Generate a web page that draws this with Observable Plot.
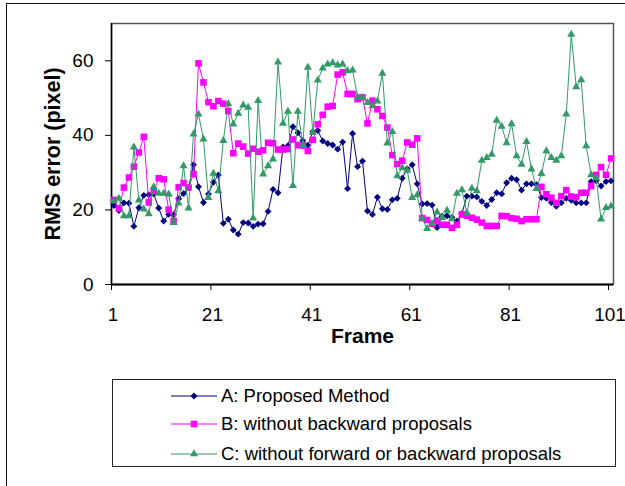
<!DOCTYPE html>
<html>
<head>
<meta charset="utf-8">
<script src="https://cdn.jsdelivr.net/npm/d3@7"></script>
<script src="https://cdn.jsdelivr.net/npm/@observablehq/plot@0.6"></script>
<style>
  html, body { margin: 0; padding: 0; background: #fff; overflow: hidden; }
  #wrap { position: relative; width: 625px; height: 486px; overflow: hidden; font-family: "Liberation Sans", Arial, sans-serif; }
  #outer { position: absolute; left: 6px; top: 3px; width: 700px; height: 600px; border-left: 1.5px solid #111; border-top: 1.5px solid #111; }
  #chart { position: absolute; left: 0; top: 0; }
  #legend { position: absolute; left: 112px; top: 379px; width: 502px; height: 86px; border: 1.5px solid #222; background: #fff; }
  .row { position: absolute; left: 0; height: 24px; display: flex; align-items: center; }
  .row svg { position: absolute; left: 57px; top: 0; }
  .row span { position: absolute; left: 108px; font-size: 18.5px; white-space: nowrap; color: #000; line-height: 24px; top: 0; }
</style>
</head>
<body>
<div id="wrap">
  <div id="outer"></div>
  <div id="chart"></div>
  <div id="legend"></div>
</div>
<script>
const frames = d3.range(1, 102);
const xTicks = [1, 21, 41, 61, 81, 101];
const yTicks = [0, 20, 40, 60];
const seriesNames = ["A: Proposed Method", "B: without backward proposals", "C: without forward or backward proposals"];
const seriesColors = ["#000080", "#FF00FF", "#339966"];
const seriesSymbols = ["diamond2", "square", "triangle"];

const seriesA = [
  21.2, 19.8, 21.9, 21.8, 15.6, 20.6, 23.9, 24.1, 24.3, 20.5,
  17.0, 18.8, 18.7, 23.0, 24.4, 26.0, 32.1, 26.2, 22.0, 24.3,
  27.4, 29.4, 16.4, 17.5, 14.6, 13.5, 16.6, 16.5, 15.6, 16.2,
  16.3, 19.6, 25.5, 24.6, 36.9, 37.2, 42.3, 40.7, 38.6, 37.3,
  41.0, 41.3, 38.5, 37.8, 37.4, 36.3, 38.2, 25.7, 40.5, 31.6,
  33.1, 19.7, 18.8, 23.4, 20.3, 20.1, 22.7, 23.1, 28.5, 31.0,
  32.1, 27.0, 21.6, 21.7, 21.3, 15.3, 18.3, 18.4, 18.0, 17.0,
  19.0, 23.7, 23.7, 23.5, 22.3, 21.2, 22.8, 24.6, 24.3, 27.3,
  28.5, 28.1, 25.3, 27.0, 27.0, 26.8, 23.3, 23.1, 22.0, 21.0,
  21.9, 23.1, 22.6, 21.9, 21.9, 21.9, 27.6, 27.8, 26.4, 27.6,
  27.8
];
const seriesB = [
  22.7, 20.4, 26.0, 28.7, 31.6, 35.4, 39.6, 22.0, 25.0, 28.5,
  28.2, 20.1, 17.0, 26.1, 27.2, 26.0, 29.6, 59.3, 54.2, 48.9,
  47.8, 49.2, 48.5, 46.5, 35.2, 37.8, 37.0, 35.1, 36.4, 35.6,
  36.0, 38.0, 37.9, 36.2, 36.2, 36.3, 38.9, 37.4, 37.3, 35.8,
  38.8, 43.0, 45.5, 47.7, 47.9, 56.3, 56.9, 51.1, 51.1, 49.7,
  50.2, 43.2, 49.3, 47.0, 45.2, 42.1, 34.7, 32.3, 33.2, 38.1,
  37.5, 39.2, 17.8, 17.3, 16.3, 17.2, 16.0, 16.0, 15.2, 16.0,
  18.8, 18.4, 17.9, 17.4, 16.6, 15.7, 15.7, 15.7, 18.4, 18.3,
  17.8, 17.6, 17.0, 17.5, 17.5, 17.5, 26.2, 24.2, 23.3, 21.9,
  23.7, 25.3, 23.6, 23.4, 24.6, 24.6, 26.4, 29.4, 31.5, 29.4,
  33.8
];
const seriesC = [
  22.4, 23.1, 18.4, 18.4, 36.8, 22.6, 20.2, 18.9, 26.2, 24.4,
  24.4, 24.2, 16.6, 21.8, 31.8, 20.5, 40.3, 45.7, 39.0, 23.3,
  29.8, 25.1, 38.6, 48.4, 43.0, 45.9, 48.1, 47.5, 17.8, 49.3,
  29.6, 31.8, 33.6, 59.6, 43.2, 46.4, 26.5, 46.4, 37.5, 58.2,
  40.8, 54.8, 58.0, 59.1, 59.4, 58.8, 59.1, 57.3, 57.5, 50.3,
  50.1, 48.8, 47.9, 49.2, 56.6, 37.9, 41.0, 29.1, 31.3, 30.6,
  23.3, 24.0, 17.7, 15.0, 16.3, 19.4, 17.9, 19.9, 17.6, 24.4,
  25.4, 19.1, 25.8, 25.1, 33.3, 34.0, 34.9, 44.0, 42.4, 38.0,
  43.1, 34.5, 32.2, 38.3, 30.9, 25.7, 29.7, 35.8, 34.0, 33.3,
  34.5, 45.7, 67.1, 53.0, 54.9, 37.2, 29.4, 28.6, 17.5, 20.6,
  21.0
];

const allSeries = [seriesA, seriesB, seriesC];
const rows = allSeries.map(vals => frames.map((f, i) => ({frame: f, value: vals[i]})));
const symbolR = [3.1, 3.7, 3.0];

const seriesMarks = rows.flatMap((data, k) => [
  Plot.line(data, {x: "frame", y: "value", stroke: seriesColors[k], strokeWidth: 1}),
  Plot.dot(data, {x: "frame", y: "value", symbol: () => seriesSymbols[k], r: symbolR[k], fill: seriesColors[k], stroke: "none"})
]);

const chart = Plot.plot({
  width: 625,
  height: 486,
  marginLeft: 111,
  marginRight: 12,
  marginTop: 23,
  marginBottom: 202,
  x: {domain: [0.5, 101.5]},
  y: {domain: [0, 70]},
  symbol: {type: "identity"},
  style: {fontFamily: "'Liberation Sans', Arial, sans-serif", fontSize: "19px", color: "#000", background: "transparent"},
  marks: [
    Plot.frame({stroke: "#555", strokeWidth: 1.5}),
    Plot.axisY({ticks: yTicks, tickSize: 6, tickPadding: 12, label: null, fontSize: 19}),
    Plot.axisX({ticks: xTicks, tickSize: 0, tickPadding: 23, label: null, fontSize: 19, dx: -1}),
    Plot.axisX({ticks: xTicks.map(t => t - 0.5), tickSize: 6, tickFormat: () => "", label: null}),
    Plot.ruleY([0], {stroke: "#000", strokeWidth: 2}),
    Plot.ruleX([0.5], {stroke: "#000", strokeWidth: 1.5}),
    ...seriesMarks,
    Plot.text(["RMS error (pixel)"], {frameAnchor: "left", textAnchor: "middle", dx: -58, rotate: -90, fontWeight: "bold", fontSize: 21.5, fill: "#000"}),
    Plot.text(["Frame"], {frameAnchor: "bottom", textAnchor: "middle", dy: 58, fontWeight: "bold", fontSize: 21, fill: "#000"})
  ]
});
document.getElementById("chart").appendChild(chart);

// Legend
const legend = document.getElementById("legend");
const rowTops = [4, 32, 62];
seriesNames.forEach((name, k) => {
  const row = document.createElement("div");
  row.className = "row";
  row.style.top = rowTops[k] + "px";
  const svg = d3.create("svg").attr("width", 50).attr("height", 24);
  svg.append("line").attr("x1", 1).attr("x2", 47).attr("y1", 12).attr("y2", 12)
    .attr("stroke", seriesColors[k]).attr("stroke-width", 1.2);
  const symType = [d3.symbolDiamond2, d3.symbolSquare, d3.symbolTriangle][k];
  const size = Math.PI * symbolR[k] * symbolR[k];
  svg.append("path").attr("d", d3.symbol(symType, size)()).attr("transform", "translate(24,12)")
    .attr("fill", seriesColors[k]);
  row.appendChild(svg.node());
  const span = document.createElement("span");
  span.textContent = name;
  row.appendChild(span);
  legend.appendChild(row);
});
</script>
</body>
</html>
